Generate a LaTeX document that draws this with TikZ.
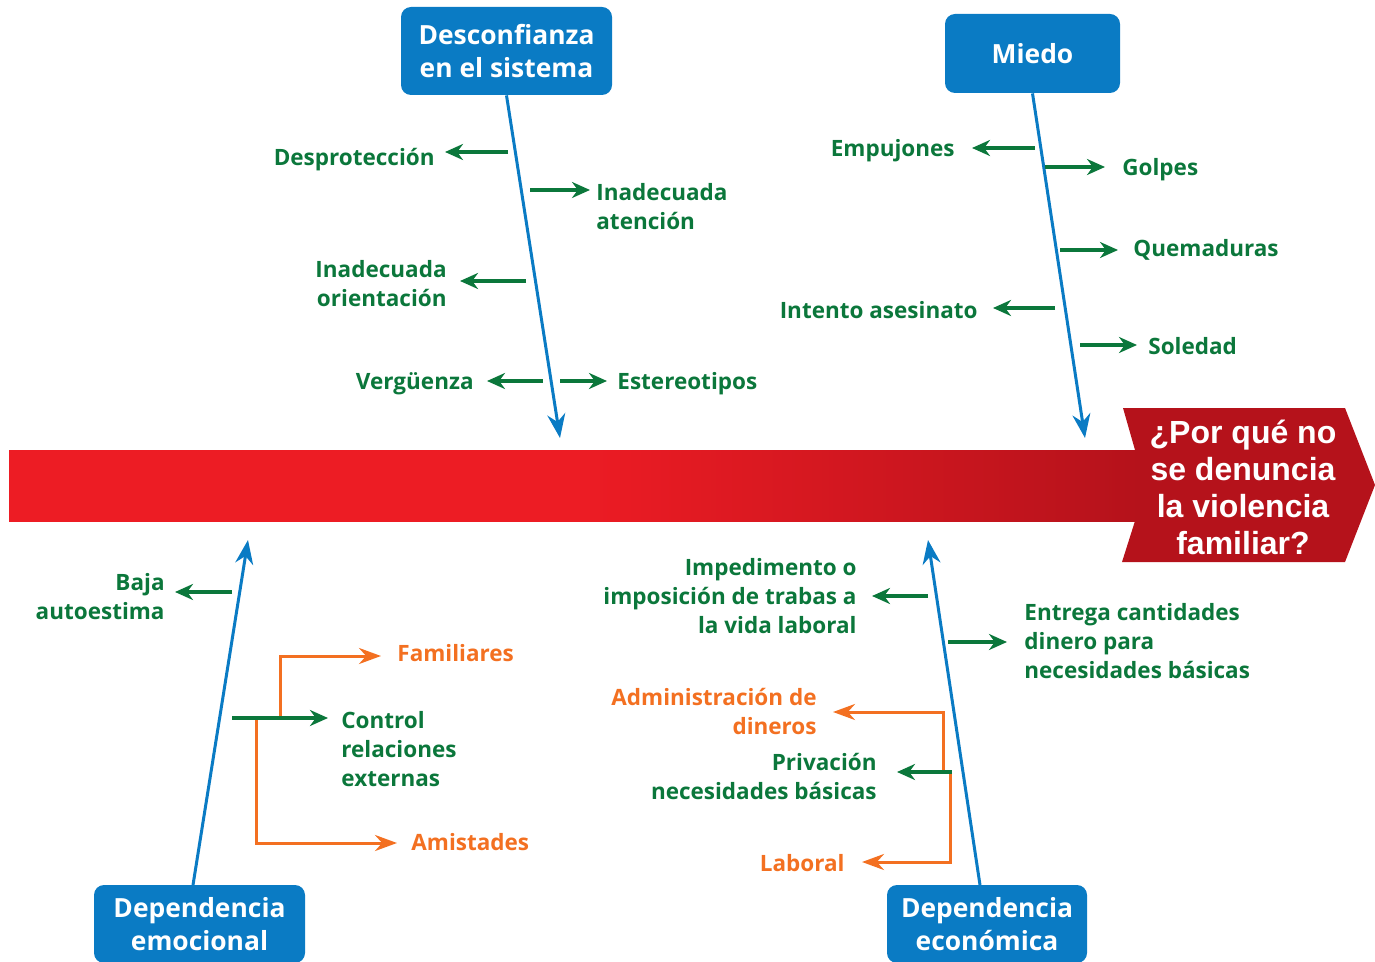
\documentclass[tikz,border=0pt]{standalone}
\usepackage{fontspec}
\setmainfont{Open Sans}
\newfontfamily\headfont{Liberation Sans}
\usetikzlibrary{arrows.meta,shapes.geometric}
\definecolor{fbblue}{HTML}{0A7BC4}
\definecolor{fbgreen}{HTML}{0B773B}
\definecolor{fborange}{HTML}{F37021}
\definecolor{fbred}{HTML}{ED1C24}
\definecolor{fbdark}{HTML}{B5121B}
\tikzset{
  bluebox/.style={fill=fbblue, rounded corners=5pt, text=white, align=center,
    font=\bfseries\fontsize{13.2}{16.5}\selectfont, inner sep=0pt},
  bone/.style={draw=fbblue, line width=1.5pt, -{Stealth[length=12pt,width=9pt]}},
  garrow/.style={draw=fbgreen, line width=2pt, -{Stealth[length=9pt,width=8pt]}},
  oarrow/.style={draw=fborange, line width=1.5pt, -{Stealth[length=11pt,width=8pt]}},
  glab/.style={text=fbgreen, font=\bfseries\fontsize{11.25}{14.5}\selectfont, inner sep=0pt},
  olab/.style={text=fborange, font=\bfseries\fontsize{11.25}{14.5}\selectfont, inner sep=0pt},
  labL/.style={anchor=west, align=left},
  labR/.style={anchor=east, align=right},
}
\begin{document}
\begin{tikzpicture}[x=0.5pt,y=-0.5pt]
\useasboundingbox (0,0) rectangle (1375,962);
% spine
\shade[left color=fbred, right color=fbdark, middle color=fbred] (9,450) rectangle (1140,521);
\fill[fbdark] (1123,408) -- (1345,408) -- (1375,485) -- (1345,562) -- (1122,562) -- (1135,521) -- (1135,450) -- cycle;
\node (question) [text=white, align=center, font=\headfont\bfseries\fontsize{16}{18.5}\selectfont, inner sep=0pt] at (1243,487)
  {¿Por qué no\\se denuncia\\la violencia\\familiar?};

% boxes
\node (desc) [bluebox, minimum width=105.5pt, minimum height=44pt] at (506.5,51) {Desconfianza\\en el sistema};
\node (miedo) [bluebox, minimum width=87.5pt, minimum height=39.5pt] at (1032.5,53.5) {Miedo};
\node (demo) [bluebox, minimum width=105.5pt, minimum height=39pt] at (199.5,924) {Dependencia\\emocional};
\node (deco) [bluebox, minimum width=100pt, minimum height=39pt] at (987,924) {Dependencia\\económica};

% bone ends
\coordinate (e1) at (560,438);
\coordinate (e2) at (1085,438);
\coordinate (e3) at (248,540);
\coordinate (e4) at (928,540);
\coordinate (s3) at (193,885);
\coordinate (s4) at (980,885);
\draw[bone] (desc.south) -- (e1);
\draw[bone] (miedo.south) -- (e2);
\draw[bone] (s3) -- (e3);
\draw[bone] (s4) -- (e4);

% labels top-left
\node (l1) [glab,labR] at (435,160) {Desprotección};
\node (l2) [glab,labL] at (596,207) {Inadecuada\\atención};
\node (l3) [glab,labR] at (447,284) {Inadecuada\\orientación};
\node (l4) [glab,labR] at (474,384) {Vergüenza};
\node (l5) [glab,labL] at (617,384) {Estereotipos};
\coordinate (a1s) at (508,152); \coordinate (a1e) at (445,152);
\coordinate (a2s) at (530,190); \coordinate (a2e) at (590,190);
\coordinate (a3s) at (526,281); \coordinate (a3e) at (460,281);
\coordinate (a4s) at (543,381); \coordinate (a4e) at (487,381);
\coordinate (a5s) at (560,381); \coordinate (a5e) at (607,381);
\draw[garrow] (a1s) -- (a1e);
\draw[garrow] (a2s) -- (a2e);
\draw[garrow] (a3s) -- (a3e);
\draw[garrow] (a4s) -- (a4e);
\draw[garrow] (a5s) -- (a5e);

% labels top-right
\node (m1) [glab,labR] at (955,151) {Empujones};
\node (m2) [glab,labL] at (1122,170) {Golpes};
\node (m3) [glab,labL] at (1133,250) {Quemaduras};
\node (m4) [glab,labR] at (978,310) {Intento asesinato};
\node (m5) [glab,labL] at (1148,346) {Soledad};
\coordinate (b1s) at (1035,148); \coordinate (b1e) at (972,148);
\coordinate (b2s) at (1045,167); \coordinate (b2e) at (1105,167);
\coordinate (b3s) at (1060,250); \coordinate (b3e) at (1118,250);
\coordinate (b4s) at (1055,308); \coordinate (b4e) at (993,308);
\coordinate (b5s) at (1080,345); \coordinate (b5e) at (1137,345);
\draw[garrow] (b1s) -- (b1e);
\draw[garrow] (b2s) -- (b2e);
\draw[garrow] (b3s) -- (b3e);
\draw[garrow] (b4s) -- (b4e);
\draw[garrow] (b5s) -- (b5e);

% bottom-left
\node (n1) [glab,labR] at (165,597) {Baja\\autoestima};
\node (n2) [glab,labL] at (341,749) {Control\\relaciones\\externas};
\node (n3) [olab,labL] at (397,653) {Familiares};
\node (n4) [olab,labL] at (411,842) {Amistades};
\coordinate (c1s) at (232,592); \coordinate (c1e) at (175,592);
\coordinate (c2s) at (232,718); \coordinate (c2e) at (328,718);
\coordinate (o1s) at (280,718); \coordinate (o1e) at (381,656);
\coordinate (o2s) at (256,718); \coordinate (o2e) at (397,843);
\draw[oarrow] (o1s) |- (o1e);
\draw[oarrow] (o2s) |- (o2e);
\draw[garrow] (c1s) -- (c1e);
\draw[garrow] (c2s) -- (c2e);

% bottom-right
\node (p1) [glab,labR] at (857,596) {Impedimento o\\imposición de trabas a\\la vida laboral};
\node (p2) [glab,labL] at (1024,641) {Entrega cantidades\\dinero para\\necesidades básicas};
\node (p3) [olab,labR] at (817,711) {Administración de\\dineros};
\node (p4) [glab,labR] at (877,776) {Privación\\necesidades básicas};
\node (p5) [olab,labR] at (845,863) {Laboral};
\coordinate (d1s) at (928,596); \coordinate (d1e) at (872,596);
\coordinate (d2s) at (948,642); \coordinate (d2e) at (1007,642);
\coordinate (d3s) at (952,772); \coordinate (d3e) at (897,772);
\coordinate (q1s) at (943,772); \coordinate (q1e) at (833,712);
\coordinate (q2s) at (950,772); \coordinate (q2e) at (862,862);
\draw[oarrow] (q1s) |- (q1e);
\draw[oarrow] (q2s) |- (q2e);
\draw[garrow] (d1s) -- (d1e);
\draw[garrow] (d2s) -- (d2e);
\draw[garrow] (d3s) -- (d3e);
\end{tikzpicture}
\end{document}
